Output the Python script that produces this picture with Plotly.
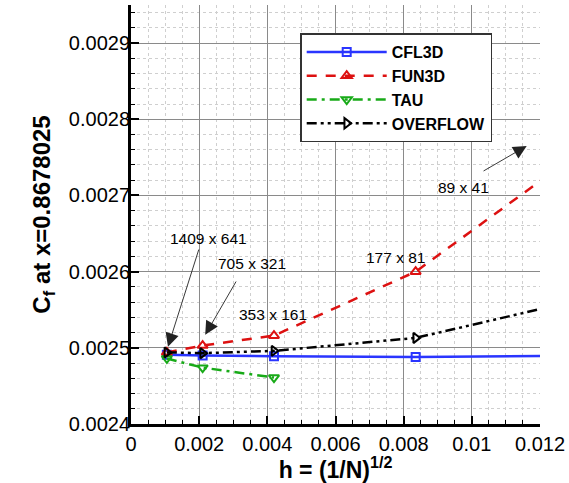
import plotly.graph_objects as go

# grid spacing h = (1/N)^(1/2) for grids 1409x641, 705x321, 353x161, 177x81, 89x41
h = [0.001052, 0.002102, 0.004195, 0.008352, 0.016555]
h_tau = [0.001052, 0.002102, 0.004195]

cfl3d = [0.002491, 0.002490, 0.002489, 0.002488, 0.002491]
fun3d = [0.002494, 0.002503, 0.002516, 0.002600, 0.002867]
tau = [0.002486, 0.002474, 0.002461]
overflow = [0.002494, 0.002493, 0.002496, 0.002513, 0.002598]

x_ticks_range = [0, 0.012]
y_range = [0.0024, 0.00295]

FONT = "Liberation Sans, Arial, Helvetica, sans-serif"

fig = go.Figure()
fig.add_trace(go.Scatter(
    x=h, y=cfl3d, name="CFL3D", mode="lines+markers",
    line=dict(color="#2a35ff", width=2.5),
    marker=dict(symbol="square-open", size=8, color="#2a35ff", line=dict(width=2)),
))
fig.add_trace(go.Scatter(
    x=h, y=fun3d, name="FUN3D", mode="lines+markers",
    line=dict(color="#dd1111", width=2.5, dash="10px,9px"),
    marker=dict(symbol="triangle-up-open", size=9, color="#dd1111", line=dict(width=2)),
))
fig.add_trace(go.Scatter(
    x=h_tau, y=tau, name="TAU", mode="lines+markers",
    line=dict(color="#18aa18", width=2.5, dash="10px,5px,3px,5px"),
    marker=dict(symbol="triangle-down-open", size=9, color="#18aa18", line=dict(width=2)),
))
fig.add_trace(go.Scatter(
    x=h, y=overflow, name="OVERFLOW", mode="lines+markers",
    line=dict(color="black", width=2.5, dash="10px,4px,3px,4px,3px,4px"),
    marker=dict(symbol="triangle-right-open", size=9, color="black", line=dict(width=2)),
))

labels = [
    ("1409 x 641", 0.00227, 0.002643),
    ("705 x 321", 0.00356, 0.002611),
    ("353 x 161", 0.00416, 0.002544),
    ("177 x 81", 0.00776, 0.002618),
    ("89 x 41", 0.00977, 0.002710),
]
for txt, lx, ly in labels:
    fig.add_annotation(x=lx, y=ly, text=txt, showarrow=False,
                       font=dict(family=FONT, size=15.5, color="black"))

arrows = [
    (0.001085, 0.0025014, 0.002003, 0.002631),
    (0.002178, 0.002517, 0.003108, 0.002589),
    (0.01161, 0.002765, 0.0103, 0.002731),
]
for tx, ty, sx, sy in arrows:
    fig.add_annotation(x=tx, y=ty, ax=sx, ay=sy, axref="x", ayref="y",
                       text="", showarrow=True, arrowhead=2, arrowsize=3,
                       arrowwidth=0.9, arrowcolor="#222222", standoff=0, startstandoff=0)

axis_common = dict(
    showline=True, linewidth=3, linecolor="black", mirror=False,
    ticks="inside", ticklen=8, tickwidth=2, tickcolor="black",
    showgrid=True, gridcolor="#8a8a8a", gridwidth=1,
    zeroline=False,
    tickfont=dict(family=FONT, size=20, color="black"),
)

fig.update_xaxes(
    **axis_common,
    range=x_ticks_range, dtick=0.002, tick0=0, tickformat="~g",
    minor=dict(dtick=0.0005, ticks="inside", ticklen=4, tickwidth=1, tickcolor="black",
               showgrid=True, gridcolor="#cfcfcf", griddash="dot", gridwidth=1),
    title=dict(text="h = (1/N)<sup>1/2</sup>", font=dict(family=FONT, size=23, color="black", weight="bold"),
               standoff=6),
)
fig.update_yaxes(
    **axis_common,
    range=y_range, dtick=0.0001, tick0=0.0024, tickformat=".4f",
    ticklabelstandoff=-6,
    minor=dict(dtick=0.00002, ticks="inside", ticklen=4, tickwidth=1, tickcolor="black",
               showgrid=True, gridcolor="#cfcfcf", griddash="dot", gridwidth=1),
    title=dict(text="C<sub>f</sub> at x=0.8678025", font=dict(family=FONT, size=24, color="black", weight="bold"),
               standoff=12),
)

fig.update_layout(
    width=569, height=483,
    margin=dict(l=131, r=29, t=5, b=59),
    paper_bgcolor="white", plot_bgcolor="white",
    font=dict(family=FONT, color="black"),
    showlegend=True,
    legend=dict(
        x=0.4137, y=0.932, xanchor="left", yanchor="top",
        bgcolor="white", bordercolor="#333333", borderwidth=1.5,
        font=dict(family=FONT, size=16, color="black", weight="bold"),
        itemwidth=80, tracegroupgap=0,
    ),
)

fig.write_html("out.html", config={"displayModeBar": False},
               post_script="document.body.style.margin='0px';document.body.style.overflow='hidden';")
